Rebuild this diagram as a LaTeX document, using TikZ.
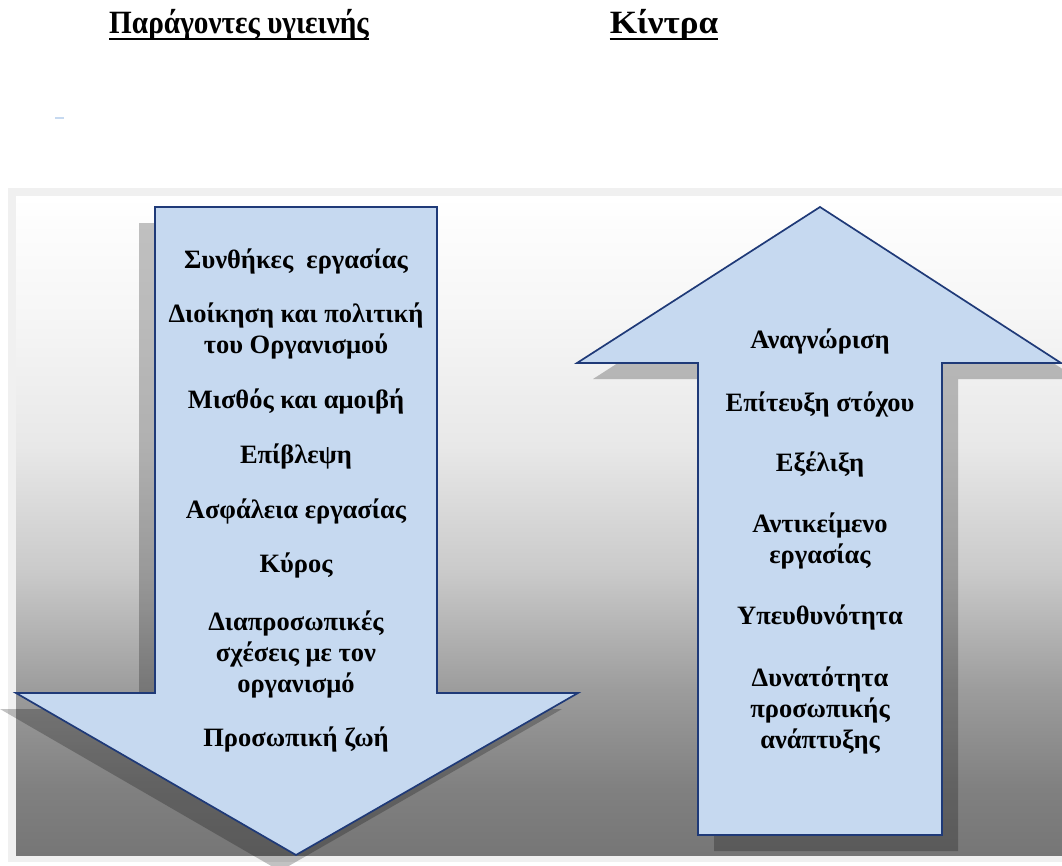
\documentclass[tikz,border=0pt]{standalone}
\usepackage{fontspec}
\setmainfont{Liberation Serif}
\newfontfamily\headfont[FakeStretch=0.9]{Liberation Serif}
\newfontfamily\headwidefont[FakeStretch=1.08]{Liberation Serif}
\definecolor{arrowfill}{HTML}{C6D9F0}
\definecolor{arrowline}{HTML}{1F3A78}
\definecolor{framegray}{HTML}{F0F0F0}
\definecolor{fadeA}{HTML}{767676}
\definecolor{fadeB}{HTML}{808080}
\definecolor{fadeC}{HTML}{9C9C9C}
\definecolor{fadeD}{HTML}{CACACA}
\definecolor{fadeE}{HTML}{E8E8E8}
\definecolor{fadeF}{HTML}{F6F6F6}
\definecolor{fadeG}{HTML}{FFFFFF}
% panel background: light at the top, dark grey at the bottom
\pgfdeclareverticalshading{panelfade}{100bp}{%
  color(0bp)=(fadeA); color(25bp)=(fadeA); color(30bp)=(fadeB);
  color(37.5bp)=(fadeC); color(46.5bp)=(fadeD); color(56bp)=(fadeE);
  color(66bp)=(fadeF); color(75bp)=(fadeG); color(100bp)=(fadeG)}
\newcommand{\stacked}[1]{\begin{tabular}[t]{@{}c@{}}#1\end{tabular}}
\begin{document}
\begin{tikzpicture}[x=1pt,y=-1pt,
  arrowbox/.style={draw=arrowline, fill=arrowfill, line width=1.7pt, line join=miter},
  shadowfill/.style={fill=black, fill opacity=0.24},
  item/.style={anchor=base, inner sep=0pt, font=\fontsize{26.5}{31}\selectfont\bfseries},
  head/.style={anchor=base, inner sep=0pt, font=\headfont\fontsize{32.5}{36}\selectfont\bfseries},
  headwide/.style={head, font=\headwidefont\fontsize{32.5}{36}\selectfont\bfseries},
  ul/.style={line width=2.8pt}]
\useasboundingbox (0,0) rectangle (1062,865);

% panel
\fill[framegray] (8,188) rectangle (1075,862);
\shade[shading=panelfade] (16,196) rectangle (1075,855);

% shadows
\fill[shadowfill] (139,223) -- (421,223) -- (421,709) -- (562,709) -- (280,871) -- (0,709) -- (139,709) -- cycle;
\fill[shadowfill] (836,223) -- (1078,379) -- (958,379) -- (958,851) -- (714,851) -- (714,379) -- (593,379) -- cycle;

% arrows
\draw[arrowbox] (155,207) -- (437,207) -- (437,693) -- (578,693) -- (296,855) -- (16,693) -- (155,693) -- cycle;
\draw[arrowbox] (820,207) -- (1061,363) -- (942,363) -- (942,835) -- (698,835) -- (698,363) -- (577,363) -- cycle;

% small mark
\draw[arrowfill, line width=1.4pt] (55,118) -- (64,118);

% headings
\node[head] (h1) at (239,33) {Παράγοντες υγιεινής};
\node[headwide] (h2) at (664,33) {Κίντρα};
\draw[ul] ([yshift=-6pt]h1.base west) -- ([yshift=-6pt]h1.base east);
\draw[ul] ([yshift=-6pt]h2.base west) -- ([yshift=-6pt]h2.base east);

% hygiene factors
\node[item] (l1) at (296,268) {Συνθήκες\ \ εργασίας};
\node[item] (l2) at (296,322) {\stacked{Διοίκηση και πολιτική\\του Οργανισμού}};
\node[item] (l3) at (296,408) {Μισθός και αμοιβή};
\node[item] (l4) at (296,463) {Επίβλεψη};
\node[item] (l5) at (296,518) {Ασφάλεια εργασίας};
\node[item] (l6) at (296,572) {Κύρος};
\node[item] (l7) at (296,630) {\stacked{Διαπροσωπικές\\σχέσεις με τον\\οργανισμό}};
\node[item] (l8) at (296,746) {Προσωπική ζωή};

% motivators
\node[item] (r1) at (820,348) {Αναγνώριση};
\node[item] (r2) at (820,411) {Επίτευξη στόχου};
\node[item] (r3) at (820,471) {Εξέλιξη};
\node[item] (r4) at (820,532) {\stacked{Αντικείμενο\\εργασίας}};
\node[item] (r5) at (820,624) {Υπευθυνότητα};
\node[item] (r6) at (820,686) {\stacked{Δυνατότητα\\προσωπικής\\ανάπτυξης}};
\end{tikzpicture}
\end{document}
